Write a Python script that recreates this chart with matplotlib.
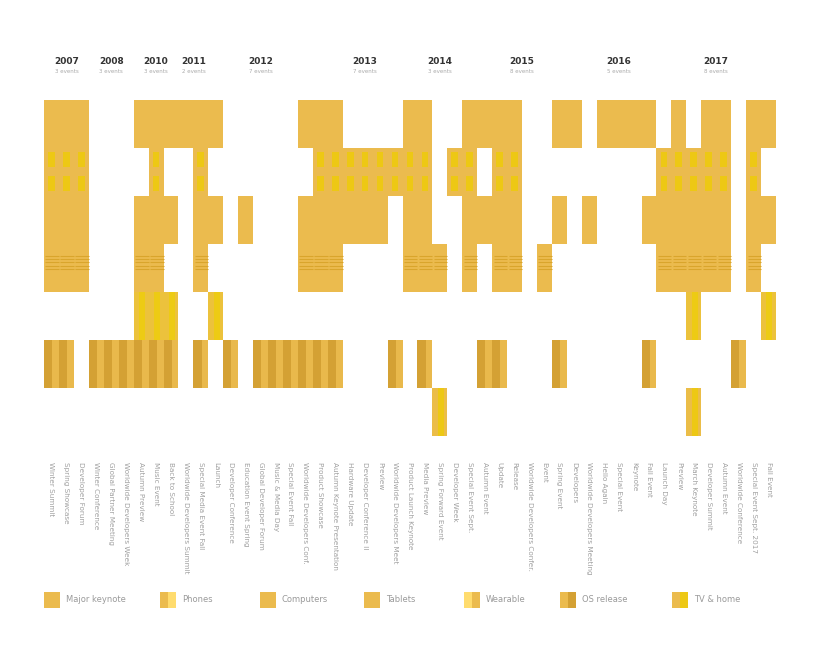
import matplotlib
matplotlib.use("Agg")
import matplotlib.pyplot as plt
from matplotlib.patches import Rectangle

# ---------------- data ----------------
categories = ["Major keynote", "Phones", "Computers", "Tablets",
              "Wearable", "OS release", "TV & home"]

column_labels = [
    "Winter Summit", "Spring Showcase", "Developer Forum", "Winter Conference",
    "Global Partner Meeting", "Worldwide Developers Week", "Autumn Preview",
    "Music Event", "Back to School", "Worldwide Developers Summit",
    "Special Media Event Fall", "Launch", "Developer Conference",
    "Education Event Spring", "Global Developer Forum", "Music & Media Day",
    "Special Event Fall", "Worldwide Developers Conf.", "Product Showcase",
    "Autumn Keynote Presentation", "Hardware Update", "Developer Conference II",
    "Preview", "Worldwide Developers Meet", "Product Launch Keynote",
    "Media Preview", "Spring Forward Event", "Developer Week",
    "Special Event Sept.", "Autumn Event", "Update", "Release",
    "Worldwide Developers Confer.", "Event", "Spring Event", "Developers",
    "Worldwide Developers Meeting", "Hello Again", "Special Event",
    "Keynote", "Fall Event", "Launch Day", "Preview", "March Keynote",
    "Developer Summit", "Autumn Event", "Worldwide Conference",
    "Special Event Sept. 2017", "Fall Event",
]

years = ["2007", "2008", "2010", "2011", "2012", "2013", "2014", "2015", "2016", "2017"]
year_first = [0, 3, 6, 9, 11, 18, 25, 28, 36, 41]
year_last = [2, 5, 8, 10, 17, 24, 27, 35, 40, 48]
year_notes = ["3 events", "3 events", "3 events", "2 events", "7 events",
              "7 events", "3 events", "8 events", "5 events", "8 events"]

# filled columns per row (category)
row_keynote = [0, 1, 2, 6, 7, 8, 9, 10, 11, 17, 18, 19, 24, 25, 28, 29, 30, 31,
               34, 35, 37, 38, 39, 40, 42, 44, 45, 47, 48]
row_phones = [0, 1, 2, 7, 10, 18, 19, 20, 21, 22, 23, 24, 25, 27, 28, 30, 31,
              41, 42, 43, 44, 45, 47]
row_computers = [0, 1, 2, 6, 7, 8, 10, 11, 13, 17, 18, 19, 20, 21, 22, 24, 25,
                 28, 29, 30, 31, 34, 36, 40, 41, 42, 43, 44, 45, 47, 48]
row_tablets = [0, 1, 2, 6, 7, 10, 17, 18, 19, 24, 25, 26, 28, 30, 31, 33,
               41, 42, 43, 44, 45, 47]
row_wearable = [6, 7, 8, 11, 43, 48]
row_os = [0, 1, 3, 4, 5, 6, 7, 8, 10, 12, 14, 15, 16, 17, 18, 19, 23, 25, 29,
          30, 34, 40, 46]
row_tv = [26, 43]

rows = [row_keynote, row_phones, row_computers, row_tablets,
        row_wearable, row_os, row_tv]

# ---------------- style ----------------
GOLD = "#EBBB4E"
row_colors = ["#EBBB4E", "#EBBB4E", "#EBBB4E", "#EBBB4E", "#ECC23C", "#D4A134", "#EBBD48"]
accent = [None, "#EDC814", None, "#D9A52C", "#EDCB14", "#E9B94C", "#EDC814"]
legend_colors = [(GOLD, GOLD), (GOLD, "#FFDC6E"), (GOLD, GOLD), (GOLD, GOLD),
                 ("#FFDC6E", GOLD), (GOLD, "#D4A134"), (GOLD, "#EDC814")]

W, H = 820, 645
fig = plt.figure(figsize=(W / 100, H / 100), dpi=100)
ax = fig.add_axes([44 / W, 1 - 436 / H, 732 / W, 336 / H])
n_cols = len(column_labels)
ax.set_xlim(0, n_cols)
ax.set_ylim(len(rows), 0)

for r, cols in enumerate(rows):
    ax.bar(cols, 1, bottom=r, width=1, align="edge", color=row_colors[r],
           linewidth=0)
    if r == 1:
        ax.bar([c + 0.27 for c in cols], 0.32, bottom=r + 0.08, width=0.45,
               align="edge", color=accent[r], linewidth=0)
        ax.bar([c + 0.27 for c in cols], 0.32, bottom=r + 0.58, width=0.45,
               align="edge", color=accent[r], linewidth=0)
    elif r == 3:
        for k in range(5):
            ax.hlines([r + 0.24 + 0.07 * k] * len(cols), [c + 0.1 for c in cols],
                      [c + 1 for c in cols], colors=accent[r], linewidth=0.8)
    elif r == 5:
        ax.bar([c + 0.55 for c in cols], 1, bottom=r, width=0.45,
               align="edge", color=accent[r], linewidth=0)
    elif r in (4, 6):
        ax.bar([c + 0.35 for c in cols], 1, bottom=r, width=0.4,
               align="edge", color=accent[r], linewidth=0)

for s in ax.spines.values():
    s.set_visible(False)
ax.set_yticks([])
ax.set_xticks([c + 0.5 for c in range(n_cols)])
ax.set_xticklabels(column_labels, rotation=-90, va="top", ha="center",
                   fontsize=5.2, color="#a0a0a0")
ax.tick_params(axis="x", length=0, pad=19)

# year headers
for y, a, b, note in zip(years, year_first, year_last, year_notes):
    xc = (a + b + 1) / 2
    ax.text(xc, -0.8, y, ha="center", va="center", fontsize=6.5,
            fontweight="bold", color="#333333", clip_on=False)
    ax.text(xc, -0.6, note, ha="center", va="center", fontsize=4,
            color="#aaaaaa", clip_on=False)

# legend (manual layout)
leg_x = [44, 160, 260, 364, 464, 560, 672]
for x, name, (c1, c2) in zip(leg_x, categories, legend_colors):
    fig.patches.append(Rectangle((x / W, 1 - 608 / H), 8 / W, 16 / H,
                                 transform=fig.transFigure, color=c1, lw=0))
    fig.patches.append(Rectangle(((x + 8) / W, 1 - 608 / H), 8 / W, 16 / H,
                                 transform=fig.transFigure, color=c2, lw=0))
    fig.text((x + 22) / W, 1 - 600 / H, name, fontsize=6, color="#9a9a9a",
             va="center", ha="left")

fig.savefig("out.png", dpi=100, facecolor="white")
